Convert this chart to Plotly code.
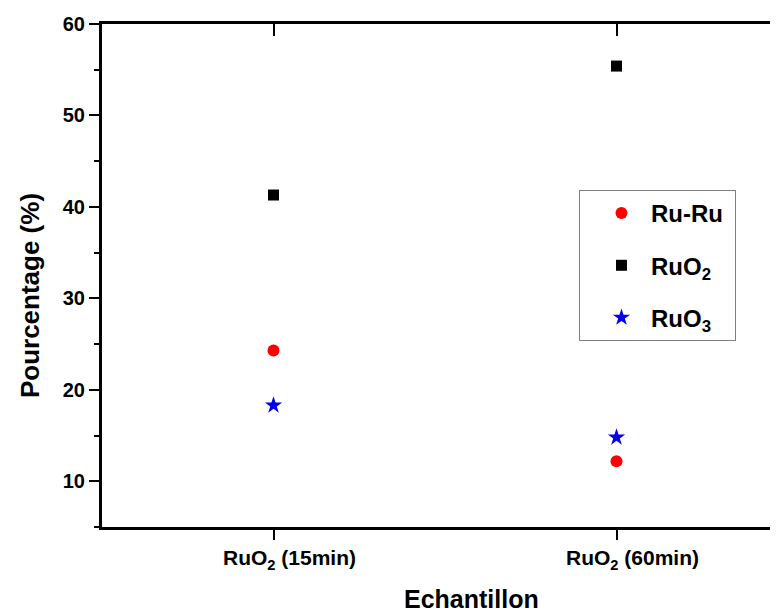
import plotly.graph_objects as go

categories = ["RuO<sub>2</sub> (15min)", "RuO<sub>2</sub> (60min)"]
ru_ru = [24.3, 12.2]
ruo2 = [41.3, 55.4]
ruo3 = [18.3, 14.8]

series_names = ["Ru-Ru", "RuO<sub>2</sub>", "RuO<sub>3</sub>"]

FONT = "Liberation Sans"
PAD = "<span style='color:rgba(0,0,0,0)'>.</span>"  # right padding inside legend box

fig = go.Figure()
fig.add_trace(go.Scatter(x=categories, y=ru_ru, mode="markers", name=series_names[0] + PAD,
                         legendgroup="a",
                         marker=dict(symbol="circle", size=12, color="#ff0000")))
fig.add_trace(go.Scatter(x=categories, y=ruo2, mode="markers", name=series_names[1],
                         legendgroup="b",
                         marker=dict(symbol="square", size=11, color="#000000")))
fig.add_trace(go.Scatter(x=categories, y=ruo3, mode="markers", name=series_names[2],
                         legendgroup="c",
                         marker=dict(symbol="star", size=13, color="#0000ee")))
# invisible helper trace to instantiate the mirrored top/right axes
fig.add_trace(go.Scatter(x=categories, y=ruo2, mode="markers", xaxis="x2", yaxis="y2",
                         showlegend=False, hoverinfo="skip",
                         marker=dict(opacity=0)))

fig.update_layout(
    width=780, height=604,
    margin=dict(l=94, r=0, t=16, b=85),
    paper_bgcolor="white", plot_bgcolor="white",
    font=dict(family=FONT, color="black"),
    xaxis=dict(type="category", range=[-0.5, 1.5],
               showline=True, linewidth=3, linecolor="black",
               ticks="outside", ticklen=10, tickwidth=2, tickcolor="black",
               tickfont=dict(family=FONT, size=21, weight="bold", color="black"),
               ticklabelshift=16,
               showgrid=False, zeroline=False, mirror=False),
    xaxis2=dict(type="category", overlaying="x", side="top", matches="x", anchor="y",
                showline=True, linewidth=3, linecolor="black",
                ticks="inside", ticklen=12, tickwidth=2, tickcolor="black",
                showticklabels=False, showgrid=False, zeroline=False),
    yaxis=dict(range=[5, 60], tick0=0, dtick=10,
               showline=True, linewidth=3, linecolor="black",
               ticks="outside", ticklen=10, tickwidth=2, tickcolor="black",
               tickfont=dict(family=FONT, size=20, weight="bold", color="black"),
               minor=dict(ticks="outside", ticklen=5, tickwidth=2, tickcolor="black",
                          dtick=5, tick0=0, showgrid=False),
               showgrid=False, zeroline=False, mirror=False),
    yaxis2=dict(overlaying="y", side="right", matches="y", anchor="x",
                showline=True, linewidth=3, linecolor="black",
                ticks="inside", ticklen=13, tickwidth=2, tickcolor="black",
                minor=dict(ticks="inside", ticklen=10, tickwidth=1, tickcolor="#999999",
                           dtick=5, tick0=0, showgrid=False),
                showticklabels=False, showgrid=False, zeroline=False),
    legend=dict(x=0.6953, y=0.670, xanchor="left", yanchor="top",
                bgcolor="white", bordercolor="#808080", borderwidth=1,
                font=dict(family=FONT, size=24, weight="bold", color="black"),
                tracegroupgap=18, itemwidth=49, indentation=12),
    annotations=[
        dict(text="Pourcentage (%)", xref="paper", yref="paper",
             x=-0.105, y=0.461, textangle=-90, showarrow=False,
             xanchor="center", yanchor="middle",
             font=dict(family=FONT, size=26, weight="bold", color="black")),
        dict(text="Echantillon", xref="paper", yref="paper",
             x=0.538, y=-0.143, showarrow=False,
             xanchor="center", yanchor="middle",
             font=dict(family=FONT, size=25, weight="bold", color="black")),
    ],
)

fig.write_html("out.html")
